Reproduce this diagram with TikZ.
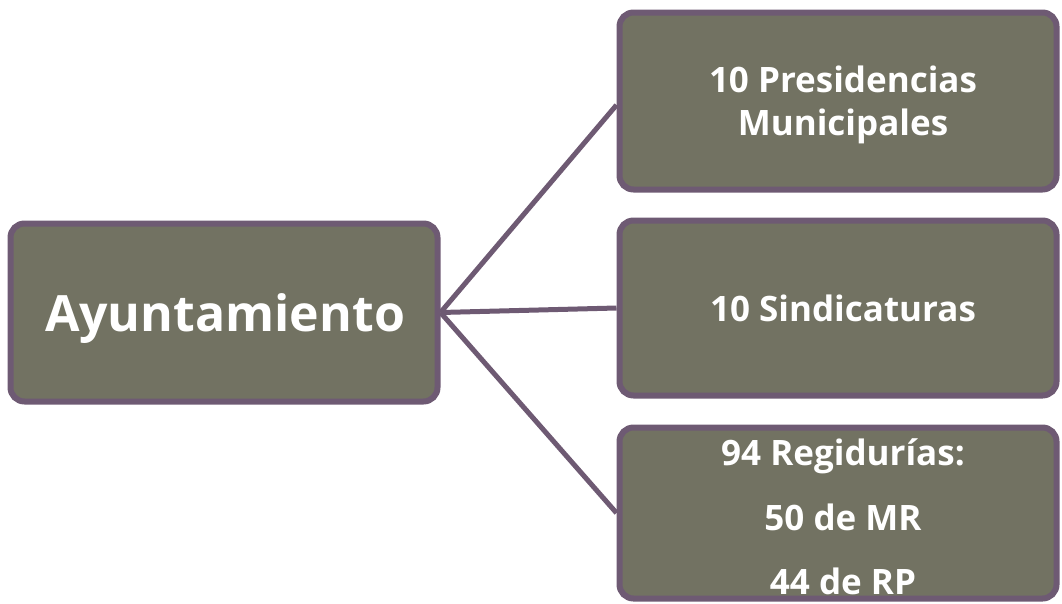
\documentclass[tikz,border=0pt]{standalone}
\usepackage{fontspec}
\setmainfont{Open Sans}
\definecolor{boxfill}{HTML}{727262}
\definecolor{boxline}{HTML}{6E5A73}
\begin{document}
\begin{tikzpicture}[x=1pt,y=-1pt,
  box/.style={draw=boxline, line width=6pt, fill=boxfill, rounded corners=14pt, inner sep=0pt},
  lbl/.style={text=white, anchor=base, inner sep=0pt},
  big/.style={lbl, font=\fontsize{50}{56}\selectfont\bfseries},
  small/.style={lbl, font=\fontsize{35}{40}\selectfont\bfseries},
  conn/.style={draw=boxline, line width=5pt}]
\useasboundingbox (0,0) rectangle (1062,603);
\node[box, minimum width=427pt, minimum height=178pt] (ayu) at (224,312.5) {};
\node[box, minimum width=437pt, minimum height=177pt] (pres) at (838,101) {};
\node[box, minimum width=437pt, minimum height=175pt] (sind) at (838,308) {};
\node[box, minimum width=437pt, minimum height=171pt] (reg) at (838,513) {};
\draw[conn] (ayu.east) -- ([yshift=-4pt]pres.west);
\draw[conn] (ayu.east) -- (sind.west);
\draw[conn] (ayu.east) -- (reg.west);
\node[big] (t1) at (225,331) {Ayuntamiento};
\node[small] (t2) at (843,92) {10 Presidencias};
\node[small] (t3) at (843,135) {Municipales};
\node[small] (t4) at (843,321) {10 Sindicaturas};
\node[small] (t5) at (843,465) {94 Regidurías:};
\node[small] (t6) at (843,530) {50 de MR};
\node[small] (t7) at (843,594) {44 de RP};
\end{tikzpicture}
\end{document}
